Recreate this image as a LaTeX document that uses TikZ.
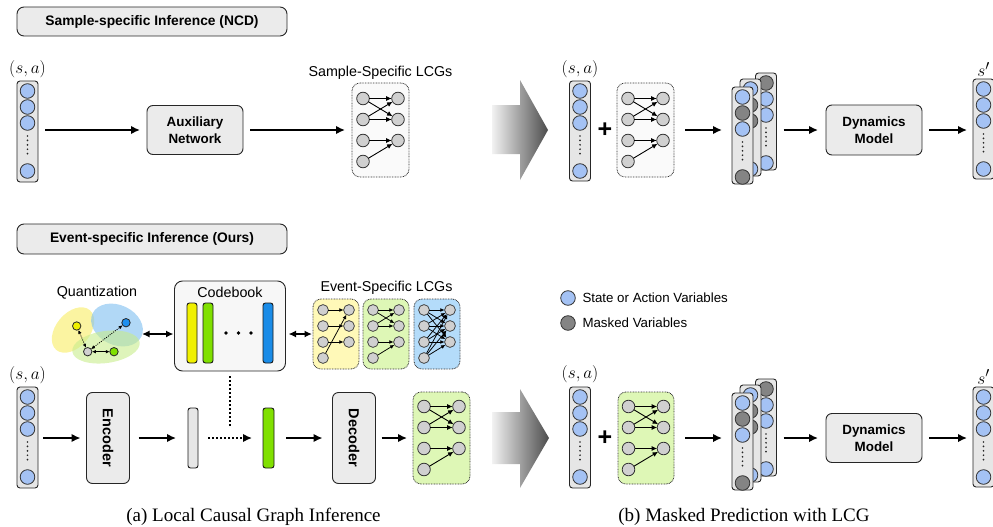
\documentclass[tikz,border=0pt]{standalone}
\usepackage[no-math]{fontspec}
\setmainfont{Liberation Sans}
\newfontfamily\captionserif{Liberation Serif}
\usetikzlibrary{arrows.meta}

\definecolor{stateblue}{RGB}{164,194,244}
\definecolor{maskgray}{RGB}{132,132,132}
\definecolor{nodegray}{RGB}{208,208,208}
\definecolor{boxgray}{RGB}{235,235,235}
\definecolor{colfill}{RGB}{230,230,230}
\definecolor{cbfill}{RGB}{247,247,247}
\definecolor{lcgwhite}{RGB}{250,250,250}
\definecolor{cbyellow}{RGB}{240,240,0}
\definecolor{cbgreen}{RGB}{128,224,0}
\definecolor{cbblue}{RGB}{26,140,232}
\definecolor{lcgyellow}{RGB}{255,249,184}
\definecolor{lcggreen}{RGB}{222,247,182}
\definecolor{lcgblue}{RGB}{180,220,250}
\definecolor{blobyellow}{RGB}{250,240,130}
\definecolor{blobblue}{RGB}{125,190,240}
\definecolor{blobgreen}{RGB}{200,236,140}
\definecolor{dotblue}{RGB}{30,144,240}

\tikzset{
  every node/.style={inner sep=0pt, outer sep=0pt},
  colbox/.style={draw=black!85, line width=0.9pt, fill=colfill, rounded corners=3pt, minimum width=21pt},
  varnode/.style={circle, draw=black!80, line width=0.8pt, minimum size=14.6pt},
  vdots/.style={draw=black!85, line width=1.9pt, dash pattern=on 0pt off 4.4pt, line cap=round},
  procbox/.style={draw=black!85, line width=0.9pt, fill=boxgray, rounded corners=6pt, align=center, font=\bfseries\fontsize{13.4}{17}\selectfont},
  codecbox/.style={procbox, rotate=-90, minimum width=91pt, minimum height=43pt, font=\bfseries\fontsize{14.5}{17}\selectfont},
  titlebox/.style={draw=black!85, line width=0.9pt, fill=boxgray, rounded corners=7pt, font=\bfseries\fontsize{13.8}{16}\selectfont},
  lcgbox/.style={draw=black!80, line width=0.8pt, dash pattern=on 0.8pt off 0.8pt, rounded corners=8pt},
  gnode/.style={circle, draw=black!80, line width=0.8pt, fill=nodegray, minimum size=12.6pt},
  gedge/.style={-{Latex[length=5.5pt,width=5pt]}, line width=0.9pt},
  flow/.style={-{Latex[length=9pt,width=8.5pt]}, line width=1.6pt},
  twoway/.style={{Latex[length=7.5pt,width=7pt]}-{Latex[length=7.5pt,width=7pt]}, line width=1.6pt},
  dotline/.style={line width=1.6pt, dash pattern=on 1.8pt off 2.2pt},
  dotflow/.style={dotline, -{Latex[length=9pt,width=8.5pt]}},
  codebar/.style={draw=black!90, line width=0.9pt, rounded corners=2.5pt},
  lbl/.style={font=\fontsize{14.3}{16}\selectfont},
  legtext/.style={font=\fontsize{13.3}{15}\selectfont, anchor=west},
  mathlbl/.style={font=\fontsize{19}{19}\selectfont},
  plussign/.style={font=\bfseries\fontsize{25}{25}\selectfont},
  capt/.style={font=\captionserif\fontsize{19}{21}\selectfont},
  qdot/.style={circle, draw=black!85, line width=0.8pt, minimum size=8.4pt},
  qlink/.style={{Latex[length=4pt,width=3.6pt]}-{Latex[length=4pt,width=3.6pt]}, line width=0.8pt},
}

% a column of four variables: name, centre x, top y, height, fills
\newcommand{\varcolumn}[8]{%
  \node[colbox, minimum height=#4pt] (#1) at ({#2},{#3+#4/2}) {};
  \node[varnode, fill=#5] (#1-1) at ({#2},{#3+10}) {};
  \node[varnode, fill=#6] (#1-2) at ({#2},{#3+26}) {};
  \node[varnode, fill=#7] (#1-3) at ({#2},{#3+42}) {};
  \node[varnode, fill=#8] (#1-4) at ({#2},{#3+90}) {};
  \draw[vdots] ({#2},{#3+55}) -- ({#2},{#3+76});
}

% a local causal graph: name, left x, top y, width, height, fill, column gap, row gap
\newcommand{\lcgraph}[8]{%
  \node[lcgbox, fill=#6, minimum width=#4pt, minimum height=#5pt] (#1) at ({#2+#4/2},{#3+#5/2}) {};
  \foreach \r in {1,...,4}
    \node[gnode] (#1-l\r) at ({#2+#4/2-#7/2},{#3+#5/2+(\r-2.5)*#8}) {};
  \foreach \r in {1,2,3}
    \node[gnode] (#1-r\r) at ({#2+#4/2+#7/2},{#3+#5/2+(\r-2.5)*#8}) {};
}

\begin{document}
\begin{tikzpicture}[x=1pt, y=-1pt]
\useasboundingbox (0,0) rectangle (993,527);

% ================= sample-specific row =================
\node[titlebox, minimum width=270pt, minimum height=29pt] (t1) at (152,21.5) {Sample-specific Inference (NCD)};

\node[mathlbl] (sa1) at (27.5,69) {$(s,a)$};
\varcolumn{c1}{27.5}{81}{101}{stateblue}{stateblue}{stateblue}{stateblue}
\node[procbox, minimum width=96pt, minimum height=49pt] (aux) at (195,130) {Auxiliary\\Network};
\lcgraph{g1}{352}{83}{57}{94}{lcgwhite}{35}{21}
\foreach \a/\b in {1/1,1/2,2/1,2/2,3/3,4/3} \draw[gedge] (g1-l\a) -- (g1-r\b);
\node[lbl] (g1lbl) at (380.5,73) {Sample-Specific LCGs};
\draw[flow, shorten <=7pt, shorten >=7pt] (c1.east |- aux) -- (aux);
\draw[flow, shorten <=7pt, shorten >=7pt] (aux) -- (g1.west |- aux);

\shade[left color=black!5, right color=black!70]
  (492,105) -- (520,105) -- (520,80) -- (548,130) -- (520,180) -- (520,154) -- (492,154) -- cycle;

\node[mathlbl] (sa2) at (580,69) {$(s,a)$};
\varcolumn{c2}{580}{81}{100}{stateblue}{stateblue}{stateblue}{stateblue}
\node[plussign] (p1) at (605,130) {+};
\lcgraph{g2}{617}{83}{57}{94}{lcgwhite}{35}{21}
\foreach \a/\b in {1/1,1/2,2/1,2/2,3/3,4/3} \draw[gedge] (g2-l\a) -- (g2-r\b);

% masked copies, back to front
\varcolumn{sb1}{766}{73}{97}{maskgray}{stateblue}{stateblue}{stateblue}
\varcolumn{sm1}{750.5}{79}{97}{stateblue}{maskgray}{maskgray}{stateblue}
\varcolumn{sf1}{742.5}{87}{97}{stateblue}{maskgray}{stateblue}{maskgray}
\draw[flow, shorten <=11pt, shorten >=10pt] (g2.east) -- (sf1.west |- g2.east);

\node[procbox, minimum width=96pt, minimum height=50pt] (dyn1) at (874,130) {Dynamics\\Model};
\draw[flow, shorten <=7pt, shorten >=8pt] (sb1.east |- dyn1) -- (dyn1);
\varcolumn{o1}{983.5}{79}{100}{stateblue}{stateblue}{stateblue}{stateblue}
\node[mathlbl] (sp1) at (983.5,69.5) {$s'$};
\draw[flow, shorten <=7pt, shorten >=6pt] (dyn1) -- (o1.west |- dyn1);

% ================= event-specific row =================
\node[titlebox, minimum width=270pt, minimum height=30pt] (t2) at (152,239) {Event-specific Inference (Ours)};

% quantization sketch
\node[lbl] (qlbl) at (97,293) {Quantization};
\fill[blobyellow, opacity=.75, rotate around={50:(73,330)}] (73,330) ellipse [x radius=26pt, y radius=17pt];
\fill[blobblue, opacity=.6, rotate around={-25:(117,325)}] (117,325) ellipse [x radius=27pt, y radius=20pt];
\fill[blobgreen, opacity=.6, rotate around={8:(106,347)}] (106,347) ellipse [x radius=34pt, y radius=16pt];
\node[qdot, fill=cbyellow] (qy) at (76.7,326) {};
\node[qdot, fill=dotblue] (qb) at (126,322.7) {};
\node[qdot, fill=nodegray] (qc) at (87.7,351.7) {};
\node[qdot, fill=cbgreen] (qg) at (114,351.7) {};
\draw[qlink, dash pattern=on 1pt off 1.2pt] (qc) -- (qy);
\draw[qlink, dash pattern=on 1pt off 1.2pt] (qc) -- (qb);
\draw[qlink] (qc) -- (qg);

% codebook
\node[draw=black!85, line width=0.9pt, fill=cbfill, rounded corners=8pt, minimum width=111pt, minimum height=90pt] (cb) at (230,326) {};
\node[lbl] (cblbl) at (230,292) {Codebook};
\node[codebar, fill=cbyellow, minimum width=10pt, minimum height=60pt] (cby) at (192,333) {};
\node[codebar, fill=cbgreen, minimum width=10pt, minimum height=60pt] (cbg) at (208,333) {};
\node[codebar, fill=cbblue, minimum width=10pt, minimum height=60pt] (cbb) at (268,333) {};
\foreach \i/\x in {1/226,2/238.5,3/251}
  \node[circle, fill=black, minimum size=3.6pt] (cbdot\i) at (\x,333) {};

\coordinate (qzr) at (142,334);
\draw[twoway, shorten >=1pt] (qzr) -- (cb.west |- qzr);

% event-specific graphs
\begin{scope}[gnode/.style={circle, draw=black!80, line width=0.7pt, fill=nodegray, minimum size=10.8pt},
              gedge/.style={-{Latex[length=4.3pt,width=3.9pt]}, line width=0.75pt}]
\lcgraph{e1}{313}{299}{46}{70}{lcgyellow}{26}{16}
\lcgraph{e2}{363}{299}{46}{70}{lcggreen}{26}{16}
\lcgraph{e3}{414}{299}{46}{70}{lcgblue}{26}{16}
\foreach \a/\b in {1/1,2/2,3/3,4/1} \draw[gedge] (e1-l\a) -- (e1-r\b);
\foreach \a/\b in {1/1,1/2,2/1,2/2,3/3,4/3} \draw[gedge] (e2-l\a) -- (e2-r\b);
\foreach \a in {1,...,4} \foreach \b in {1,2,3} \draw[gedge] (e3-l\a) -- (e3-r\b);
\end{scope}
\node[lbl] (elbl) at (386.5,288) {Event-Specific LCGs};
\draw[twoway, shorten <=3pt, shorten >=1pt] (cb.east |- e1) -- (e1);

% encoder / quantized latent / decoder
\node[mathlbl] (sa3) at (27.5,375) {$(s,a)$};
\varcolumn{c3}{27.5}{387}{101}{stateblue}{stateblue}{stateblue}{stateblue}
\node[codecbox] (enc) at (108,438) {Encoder};
\draw[flow, shorten <=5pt, shorten >=6pt] (c3.east |- enc) -- (enc);
\node[codebar, fill=colfill, minimum width=10pt, minimum height=60pt] (zb) at (193,438) {};
\draw[flow, shorten <=9pt, shorten >=12pt] (enc) -- (zb);
\node[codebar, fill=cbgreen, minimum width=11pt, minimum height=60pt] (qbar) at (268.5,438) {};
\draw[dotflow, shorten <=10pt, shorten >=11pt] (zb) -- (qbar);
\coordinate (drop) at (230,427);
\draw[dotline, shorten <=5pt] (cb) -- (drop);
\node[codecbox] (dec) at (354,438) {Decoder};
\draw[flow, shorten <=12pt, shorten >=10pt] (qbar) -- (dec);
\lcgraph{g3}{413}{392}{57}{92}{lcggreen}{35}{21}
\foreach \a/\b in {1/1,1/2,2/1,2/2,3/3,4/3} \draw[gedge] (g3-l\a) -- (g3-r\b);
\draw[flow, shorten <=6pt, shorten >=6pt] (dec) -- (g3);

\shade[left color=black!5, right color=black!70]
  (492,412) -- (520,412) -- (520,389) -- (549,438) -- (520,488) -- (520,464) -- (492,464) -- cycle;

\node[mathlbl] (sa4) at (580,374) {$(s,a)$};
\varcolumn{c4}{580}{387}{101}{stateblue}{stateblue}{stateblue}{stateblue}
\node[plussign] (p2) at (605,438) {+};
\lcgraph{g4}{618}{392}{56}{92}{lcggreen}{35}{21}
\foreach \a/\b in {1/1,1/2,2/1,2/2,3/3,4/3} \draw[gedge] (g4-l\a) -- (g4-r\b);

\varcolumn{sb2}{766}{379}{97}{maskgray}{stateblue}{stateblue}{stateblue}
\varcolumn{sm2}{750.5}{385}{97}{stateblue}{maskgray}{maskgray}{stateblue}
\varcolumn{sf2}{742.5}{393}{97}{stateblue}{maskgray}{stateblue}{maskgray}
\draw[flow, shorten <=11pt, shorten >=10pt] (g4.east) -- (sf2.west |- g4.east);

\node[procbox, minimum width=96pt, minimum height=49pt] (dyn2) at (874,438) {Dynamics\\Model};
\draw[flow, shorten <=7pt, shorten >=8pt] (sb2.east |- dyn2) -- (dyn2);
\varcolumn{o2}{983.5}{387}{100}{stateblue}{stateblue}{stateblue}{stateblue}
\node[mathlbl] (sp2) at (983.5,377) {$s'$};
\draw[flow, shorten <=7pt, shorten >=6pt] (dyn2) -- (o2.west |- dyn2);

% legend
\node[varnode, fill=stateblue] (leg1) at (568,298) {};
\node[legtext] (leg1t) at (582.5,298) {State or Action Variables};
\node[varnode, fill=maskgray] (leg2) at (568,323) {};
\node[legtext] (leg2t) at (582.5,323) {Masked Variables};

% captions
\node[capt] (capa) at (253.5,517) {(a) Local Causal Graph Inference};
\node[capt] (capb) at (744,517) {(b) Masked Prediction with LCG};
\end{tikzpicture}
\end{document}
